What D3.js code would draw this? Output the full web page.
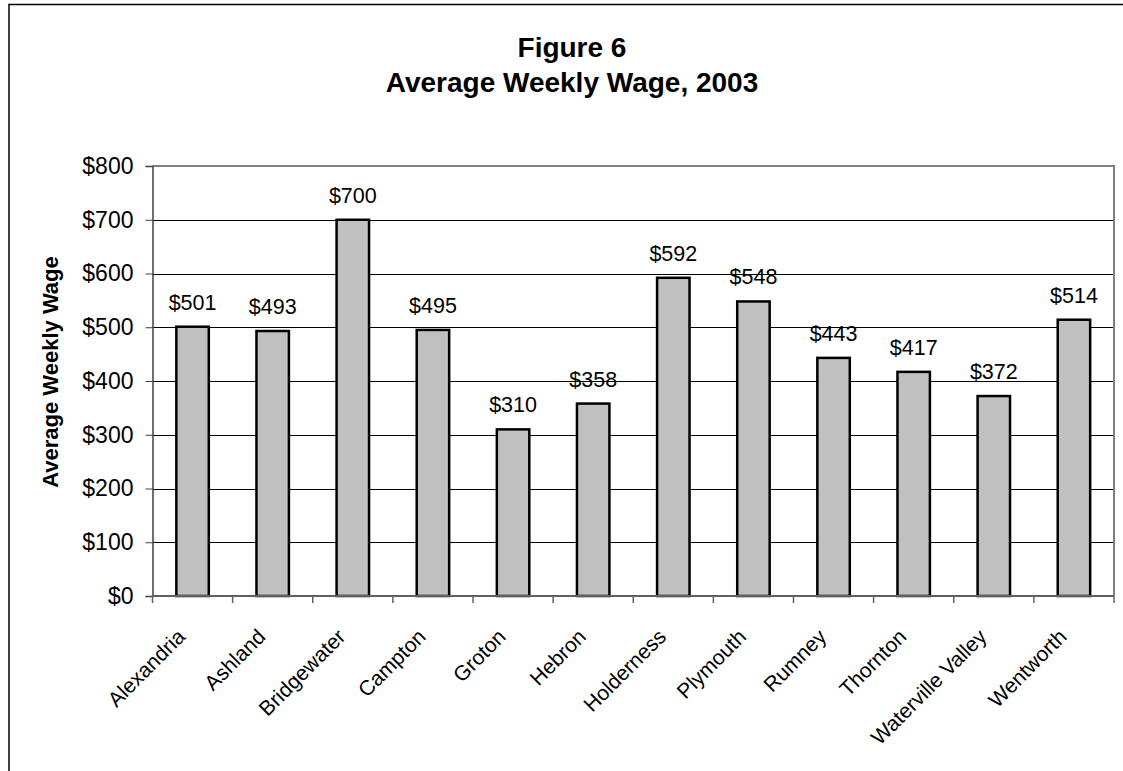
<!DOCTYPE html>
<html lang="en">
<head>
    <meta charset="UTF-8">
    <title>Figure 6 - Average Weekly Wage, 2003</title>
    <script src="https://cdn.jsdelivr.net/npm/d3@7/dist/d3.min.js"></script>
    <style>
        body { margin: 0; background: #fff; }
        text { font-family: Arial, "Liberation Sans", sans-serif; }
    </style>
</head>
<body>
    <script>
        // data
        const towns = ["Alexandria", "Ashland", "Bridgewater", "Campton", "Groton", "Hebron",
            "Holderness", "Plymouth", "Rumney", "Thornton", "Waterville Valley", "Wentworth"];
        const wages = [501, 493, 700, 495, 310, 358, 592, 548, 443, 417, 372, 514];
        const yTicks = [0, 100, 200, 300, 400, 500, 600, 700, 800];
        const titleLines = ["Figure 6", "Average Weekly Wage, 2003"];

        const width = 1123, height = 771;
        const plot = {left: 152.5, right: 1114, top: 166, bottom: 596};

        const svg = d3.select("body").append("svg")
            .attr("width", width)
            .attr("height", height);

        // outer frame (right/bottom fall off the page)
        svg.append("rect")
            .attr("x", 9).attr("y", 4.5)
            .attr("width", 1130).attr("height", 800)
            .attr("fill", "none")
            .attr("stroke", "#000")
            .attr("stroke-width", 1.5);

        const x = d3.scaleBand().domain(towns).range([plot.left, plot.right]);
        const y = d3.scaleLinear().domain([0, 800]).range([plot.bottom, plot.top]);

        // gridlines
        svg.append("g")
            .selectAll("line")
            .data(yTicks.filter(d => d > 0 && d < 800))
            .join("line")
            .attr("x1", plot.left).attr("x2", plot.right)
            .attr("y1", d => Math.round(y(d)) + 0.5).attr("y2", d => Math.round(y(d)) + 0.5)
            .attr("stroke", "#000").attr("stroke-width", 1);

        // plot border top + right in grey
        svg.append("path")
            .attr("d", `M${plot.left},${plot.top}H${plot.right}V${plot.bottom}`)
            .attr("fill", "none").attr("stroke", "#808080").attr("stroke-width", 2);

        // bars
        const barW = x.bandwidth() * 0.405;
        svg.append("g")
            .selectAll("rect")
            .data(wages)
            .join("rect")
            .attr("x", (d, i) => x(towns[i]) + x.bandwidth() / 2 - barW / 2)
            .attr("y", d => y(d))
            .attr("width", barW)
            .attr("height", d => y(0) - y(d))
            .attr("fill", "#c0c0c0")
            .attr("stroke", "#000")
            .attr("stroke-width", 2.5);

        // value labels
        svg.append("g")
            .selectAll("text")
            .data(wages)
            .join("text")
            .attr("x", (d, i) => x(towns[i]) + x.bandwidth() / 2)
            .attr("y", d => y(d) - 17)
            .attr("text-anchor", "middle")
            .attr("font-size", 21.5)
            .text(d => "$" + d);

        // y axis
        svg.append("g")
            .attr("transform", `translate(${plot.left},0)`)
            .call(d3.axisLeft(y).tickValues(yTicks).tickSize(7).tickPadding(12).tickFormat(d => "$" + d))
            .call(g => g.select(".domain").attr("stroke", "#404040").attr("stroke-width", 1.5))
            .call(g => g.selectAll(".tick line").attr("stroke", "#404040"))
            .call(g => g.selectAll(".tick text").attr("font-size", 23).attr("fill", "#000")
                .style("font-family", "Arial, 'Liberation Sans', sans-serif"));

        // x axis: ticks at the category boundaries
        const bounds = towns.map(t => x(t)).concat([plot.right]);
        const xAxis = svg.append("g");
        xAxis.append("line")
            .attr("x1", plot.left).attr("x2", plot.right)
            .attr("y1", plot.bottom).attr("y2", plot.bottom)
            .attr("stroke", "#606060").attr("stroke-width", 2);
        xAxis.selectAll(".tk")
            .data(bounds)
            .join("line")
            .attr("class", "tk")
            .attr("x1", d => d).attr("x2", d => d)
            .attr("y1", plot.bottom).attr("y2", plot.bottom + 7)
            .attr("stroke", "#606060").attr("stroke-width", 1.5);

        xAxis.selectAll("text")
            .data(towns)
            .join("text")
            .attr("transform", d => `translate(${x(d) + x.bandwidth() / 2 - 6},${plot.bottom + 42}) rotate(-45)`)
            .attr("text-anchor", "end")
            .attr("font-size", 21)
            .text(d => d);

        // axis title
        svg.append("text")
            .attr("transform", `translate(58,${(plot.top + plot.bottom) / 2 - 9}) rotate(-90)`)
            .attr("text-anchor", "middle")
            .attr("font-size", 22)
            .attr("font-weight", "bold")
            .text("Average Weekly Wage");

        // title
        svg.append("g")
            .selectAll("text")
            .data(titleLines)
            .join("text")
            .attr("x", 572)
            .attr("y", (d, i) => 57 + i * 35)
            .attr("text-anchor", "middle")
            .attr("font-size", 28)
            .attr("font-weight", "bold")
            .text(d => d);
    </script>
</body>
</html>
